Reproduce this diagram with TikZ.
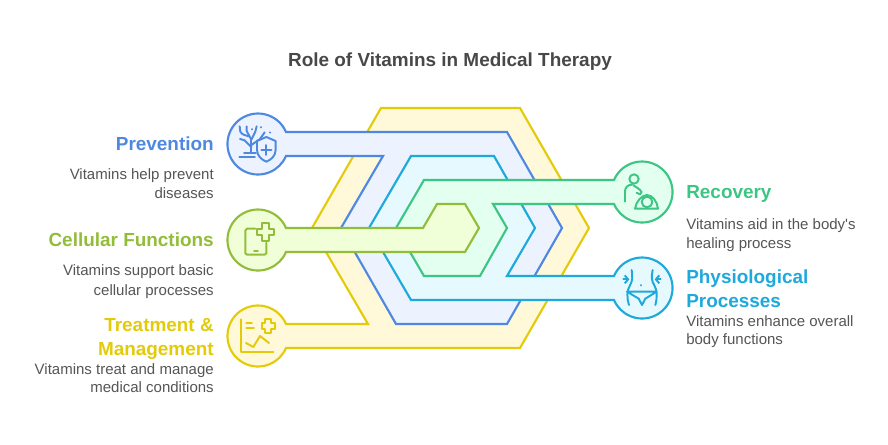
\documentclass[tikz,border=0pt]{standalone}
\usepackage{fontspec}
\setmainfont{Liberation Sans}
\usetikzlibrary{arrows.meta}
\definecolor{cY}{HTML}{E3CB0A}\definecolor{fY}{HTML}{FFF9D9}
\definecolor{cB}{HTML}{4E88E1}\definecolor{fB}{HTML}{ECF3FF}
\definecolor{cC}{HTML}{1DA9DB}\definecolor{fC}{HTML}{E6F9FF}
\definecolor{cG}{HTML}{3CC583}\definecolor{fG}{HTML}{E3FFEF}
\definecolor{cL}{HTML}{92BD39}\definecolor{fL}{HTML}{F1FFD9}
\definecolor{tT}{HTML}{484848}\definecolor{tB}{HTML}{555555}
\tikzset{
  band/.style n args={2}{draw=#1,fill=#2,line width=1.6pt,line join=miter},
  icon/.style={draw=#1,line width=1.45pt,line cap=round,line join=round,x=0.25pt,y=-0.25pt},
  ttl/.style={anchor=base,font=\fontsize{14.2pt}{16pt}\selectfont\bfseries,text=tT,inner sep=0pt},
  headl/.style={anchor=base east,font=\fontsize{14.2pt}{17pt}\selectfont\bfseries,inner sep=0pt},
  headr/.style={anchor=base west,font=\fontsize{14.2pt}{17pt}\selectfont\bfseries,inner sep=0pt},
  bodyl/.style={anchor=base east,font=\fontsize{11.25pt}{13pt}\selectfont,text=tB,inner sep=0pt},
  bodyr/.style={anchor=base west,font=\fontsize{11.25pt}{13pt}\selectfont,text=tB,inner sep=0pt},
}
\begin{document}
\begin{tikzpicture}[x=0.75pt,y=-0.75pt]
\useasboundingbox (0,0) rectangle (888,445);
% bands, back to front
\draw[band={cY}{fY}] (286,324) arc[start angle=-23.2,end angle=-336.8,radius=30.5] -- (520,348) -- (589,228) -- (520,108) -- (381,108) -- (312,228) -- (368,324) -- cycle;
\draw[band={cB}{fB}] (286,132) arc[start angle=-23.2,end angle=-336.8,radius=30.5] -- (383,156) -- (341,228) -- (396,324) -- (507,324) -- (562,228) -- (507,132) -- cycle;
\draw[band={cC}{fC}] (614,276) arc[start angle=-156.8,end angle=156.8,radius=30.5] -- (411,300) -- (369,228) -- (411,156) -- (494,156) -- (535,228) -- (507,276) -- cycle;
\draw[band={cG}{fG}] (614,180) arc[start angle=-156.8,end angle=156.8,radius=30.5] -- (493,204) -- (507,228) -- (480,276) -- (424,276) -- (396,228) -- (424,180) -- cycle;
\draw[band={cL}{fL}] (286,228) arc[start angle=-23.2,end angle=-336.8,radius=30.5] -- (465,252) -- (479,228) -- (465,204) -- (437,204) -- (423,228) -- cycle;
% icon: tree and shield
\begin{scope}[shift={(228,115)}]
\begin{scope}[icon=cB]
\draw (35,34) -- (37,50) .. controls (42,60) and (52,60) .. (62,64);
\draw (56,34) -- (56,48) -- (70,74);
\draw (86,34) -- (82,50) -- (70,74);
\draw (70,74) -- (70,110);
\draw (36,72) -- (50,76) -- (70,96);
\draw (110,52) -- (96,72) -- (70,90);
\draw (34,125) -- (81,125);
\draw (48,114) -- (84,114);
\draw (100,36) -- (100,37);
\draw (125,52) -- (125,53);
\draw (72,42) -- (72,43);
\draw[fill=fB] (115,66) -- (87,78) -- (87,104) .. controls (87,122) and (100,134) .. (115,140) .. controls (130,134) and (143,122) .. (143,104) -- (143,78) -- cycle;
\draw (100,105) -- (130,105) (115,90) -- (115,120);
\end{scope}
\end{scope}
% icon: tablet and cross
\begin{scope}[shift={(228,212)}]
\begin{scope}[icon=cL]
\draw (82,50) -- (57,50) .. controls (53,50) and (52,52) .. (52,55) -- (52,124) .. controls (52,127) and (54,128) .. (57,128) -- (110,128) .. controls (113,128) and (115,127) .. (115,124) -- (115,92);
\draw (78,118) -- (90,118);
\draw (102,34) -- (122,34) -- (122,50) -- (138,50) -- (138,70) -- (122,70) -- (122,86) -- (102,86) -- (102,70) -- (86,70) -- (86,50) -- (102,50) -- cycle;
\end{scope}
\end{scope}
% icon: chart and cross
\begin{scope}[shift={(228,308)}]
\begin{scope}[icon=cY]
\draw (38,34) -- (38,131) -- (136,131);
\draw (55,45) -- (72,45) (55,60) -- (78,60);
\draw (112,34) -- (130,34) -- (130,46) -- (141,46) -- (141,62) -- (130,62) -- (130,74) -- (112,74) -- (112,62) -- (101,62) -- (101,46) -- (112,46) -- cycle;
\draw (54,105) -- (76,117) -- (96,84) -- (123,105);
\end{scope}
\end{scope}
% icon: caregiver and baby
\begin{scope}[shift={(612,164)}]
\begin{scope}[icon=cG]
\draw (66,45) circle[radius=14];
\draw (39,113) -- (39,82) .. controls (39,70) and (48,62) .. (60,62);
\draw (64,64) .. controls (74,70) and (84,76) .. (89,84) .. controls (90,92) and (82,92) .. (74,86);
\draw (69,134) .. controls (72,112) and (90,93) .. (105,93) .. controls (120,93) and (136,112) .. (138,134) -- cycle;
\draw (105,114) circle[radius=16];
\end{scope}
\end{scope}
% icon: waist
\begin{scope}[shift={(612,260)}]
\begin{scope}[icon=cC]
\draw (59,30) .. controls (62,50) and (62,62) .. (54,76) .. controls (44,92) and (44,112) .. (51,135);
\draw (122,30) .. controls (118,50) and (118,62) .. (127,76) .. controls (136,92) and (136,112) .. (130,135);
\draw[-{Straight Barb[length=2.5pt,width=6pt]}] (34,58) -- (52,58);
\draw[-{Straight Barb[length=2.5pt,width=6pt]}] (146,58) -- (128,58);
\draw (88,75) -- (88,76);
\draw (45,95) -- (134,95) -- (100,116) -- (90,135) -- (80,116) -- cycle;
\end{scope}
\end{scope}
% text
\node[ttl] (title) at (450,67) {Role of Vitamins in Medical Therapy};
\node[headl,text=cB] (h1) at (214,151) {Prevention};
\node[bodyl] (b1a) at (214,180) {Vitamins help prevent};
\node[bodyl] (b1b) at (214,199) {diseases};
\node[headl,text=cL] (h2) at (214,247) {Cellular Functions};
\node[bodyl] (b2a) at (214,276) {Vitamins support basic};
\node[bodyl] (b2b) at (214,295) {cellular processes};
\node[headl,text=cY] (h3a) at (214,331) {Treatment \&};
\node[headl,text=cY] (h3b) at (214,355) {Management};
\node[bodyl] (b3a) at (214,374) {Vitamins treat and manage};
\node[bodyl] (b3b) at (214,392) {medical conditions};
\node[headr,text=cG] (h4) at (686,199) {Recovery};
\node[bodyr] (b4a) at (686,229) {Vitamins aid in the body\textquotesingle s};
\node[bodyr] (b4b) at (686,248) {healing process};
\node[headr,text=cC] (h5a) at (686,283) {Physiological};
\node[headr,text=cC] (h5b) at (686,307) {Processes};
\node[bodyr] (b5a) at (686,326) {Vitamins enhance overall};
\node[bodyr] (b5b) at (686,344) {body functions};
\end{tikzpicture}
\end{document}
